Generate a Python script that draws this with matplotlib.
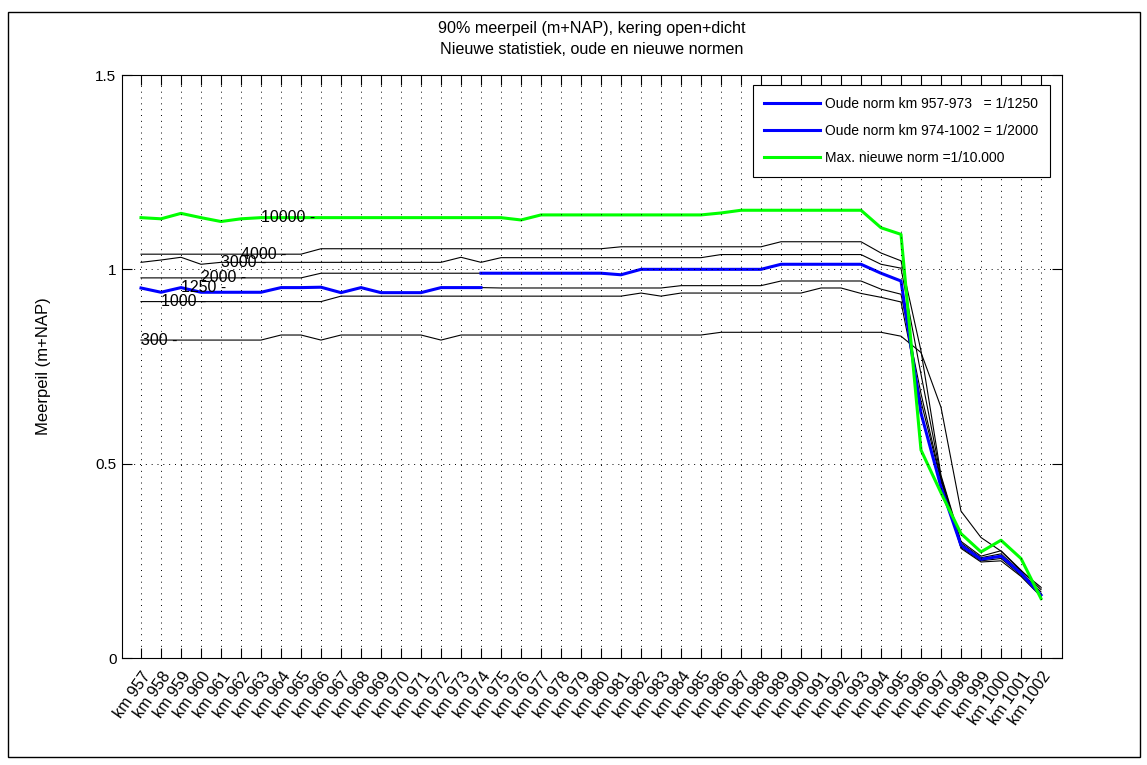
import matplotlib
matplotlib.use('Agg')
import matplotlib.pyplot as plt
from matplotlib.patches import Rectangle

plt.rcParams['font.family'] = ['Liberation Sans', 'DejaVu Sans']

# categories along the dike (km 957 .. km 1002)
km = list(range(957, 1003))
tick_labels = ['km %d' % k for k in km]

# 90% lake level per norm (m+NAP)
n300 = [0.818, 0.818, 0.818, 0.818, 0.818, 0.818, 0.818, 0.831, 0.831, 0.818,
        0.831, 0.831, 0.831, 0.831, 0.831, 0.818, 0.831, 0.831, 0.831, 0.831,
        0.831, 0.831, 0.831, 0.831, 0.831, 0.831, 0.831, 0.831, 0.831, 0.838,
        0.838, 0.838, 0.838, 0.838, 0.838, 0.838, 0.838, 0.838, 0.828, 0.786,
        0.645, 0.378, 0.310, 0.275, 0.224, 0.182]
n1000 = [0.917, 0.917, 0.917, 0.917, 0.917, 0.917, 0.917, 0.917, 0.917, 0.917,
         0.931, 0.931, 0.931, 0.931, 0.931, 0.931, 0.931, 0.931, 0.931, 0.931,
         0.931, 0.931, 0.931, 0.931, 0.931, 0.939, 0.931, 0.939, 0.939, 0.939,
         0.939, 0.939, 0.939, 0.939, 0.952, 0.952, 0.938, 0.928, 0.916, 0.660,
         0.455, 0.282, 0.247, 0.250, 0.210, 0.158]
n1250 = [0.952, 0.941, 0.953, 0.941, 0.941, 0.941, 0.941, 0.953, 0.953, 0.954,
         0.940, 0.953, 0.940, 0.940, 0.940, 0.953, 0.953, 0.953, 0.952, 0.952,
         0.952, 0.952, 0.952, 0.952, 0.952, 0.952, 0.952, 0.958, 0.958, 0.958,
         0.958, 0.958, 0.970, 0.970, 0.970, 0.970, 0.970, 0.949, 0.936, 0.680,
         0.460, 0.285, 0.250, 0.256, 0.213, 0.160]
n2000 = [0.978, 0.978, 0.978, 0.978, 0.978, 0.978, 0.978, 0.978, 0.978, 0.990,
         0.990, 0.990, 0.990, 0.990, 0.990, 0.990, 0.990, 0.990, 0.990, 0.990,
         0.990, 0.990, 0.990, 0.990, 0.986, 1.000, 1.000, 1.000, 1.000, 1.000,
         1.000, 1.000, 1.013, 1.013, 1.013, 1.013, 1.013, 0.990, 0.970, 0.630,
         0.440, 0.290, 0.254, 0.262, 0.218, 0.162]
n3000 = [1.018, 1.024, 1.031, 1.013, 1.018, 1.018, 1.018, 1.018, 1.018, 1.018,
         1.018, 1.018, 1.018, 1.018, 1.018, 1.018, 1.031, 1.018, 1.030, 1.030,
         1.030, 1.030, 1.030, 1.030, 1.030, 1.030, 1.030, 1.030, 1.030, 1.038,
         1.038, 1.038, 1.038, 1.038, 1.038, 1.038, 1.038, 1.013, 1.003, 0.730,
         0.465, 0.296, 0.258, 0.268, 0.221, 0.170]
n4000 = [1.039, 1.039, 1.039, 1.039, 1.039, 1.039, 1.039, 1.039, 1.039, 1.053,
         1.053, 1.053, 1.053, 1.053, 1.053, 1.053, 1.053, 1.053, 1.053, 1.053,
         1.053, 1.053, 1.053, 1.053, 1.058, 1.058, 1.058, 1.058, 1.058, 1.058,
         1.058, 1.058, 1.071, 1.071, 1.071, 1.071, 1.071, 1.042, 1.022, 0.790,
         0.470, 0.300, 0.262, 0.276, 0.226, 0.176]
n10000 = [1.133, 1.130, 1.144, 1.133, 1.123, 1.130, 1.133, 1.133, 1.133, 1.133,
          1.133, 1.133, 1.133, 1.133, 1.133, 1.133, 1.133, 1.133, 1.133, 1.127,
          1.140, 1.140, 1.140, 1.140, 1.140, 1.140, 1.140, 1.140, 1.140, 1.145,
          1.152, 1.152, 1.152, 1.152, 1.152, 1.152, 1.152, 1.107, 1.090, 0.535,
          0.425, 0.320, 0.273, 0.303, 0.256, 0.153]

norm_names = ['300', '1000', '1250', '2000', '3000', '4000', '10000']
norm_series = [n300, n1000, n1250, n2000, n3000, n4000, n10000]

legend_labels = ['Oude norm km 957-973   = 1/1250',
                 'Oude norm km 974-1002 = 1/2000',
                 'Max. nieuwe norm =1/10.000']

W, H = 1147, 765
fig = plt.figure(figsize=(W / 100, H / 100), dpi=100)
ax = fig.add_axes([122 / W, 1 - 658 / H, 940 / W, 583 / H])

for vals in norm_series[:-1]:
    ax.plot(km, vals, color='black', linewidth=0.8)

# old norm: 1/1250 up to km 974, 1/2000 from km 974
ax.plot(km[:18], n1250[:18], color=(0, 0, 1), linewidth=2.2, label=legend_labels[0])
ax.plot(km[17:], n2000[17:], color=(0, 0, 1), linewidth=2.2, label=legend_labels[1])
ax.plot(km, n10000, color=(0, 1, 0), linewidth=2.2, label=legend_labels[2])

# contour style labels at the start of each line
for i, (name, vals) in enumerate(zip(norm_names, norm_series)):
    ax.text(km[i], vals[i], name + ' -', fontsize=11.5, ha='left', va='center')

ax.set_xlim(956.05, 1003.05)
ax.set_ylim(0, 1.5)
ax.set_xticks(km)
ax.set_xticklabels(tick_labels, rotation=55, ha='right', rotation_mode='anchor', fontsize=11.5)
ax.set_yticks([0, 0.5, 1, 1.5])
ax.set_yticklabels(['0', '0.5', '1', '1.5'], fontsize=11)
ax.tick_params(direction='in', length=7.5, width=0.8, top=True, right=True)
ax.tick_params(axis='x', pad=8)
ax.tick_params(axis='y', pad=4)
for s in ax.spines.values():
    s.set_linewidth(0.8)

ax.set_axisbelow(False)
ax.grid(True, color='black', linestyle=(0, (1, 5)), linewidth=0.7)

ax.set_ylabel('Meerpeil (m+NAP)', fontsize=12, labelpad=32)
ax.set_title('90% meerpeil (m+NAP), kering open+dicht\nNieuwe statistiek, oude en nieuwe normen',
             fontsize=11.6, pad=15, linespacing=1.5)

leg = ax.legend(loc='upper right', bbox_to_anchor=(0.987, 0.983), borderaxespad=0,
                fontsize=10, handlelength=4.0, handletextpad=0.35, labelspacing=0.95,
                fancybox=False, framealpha=1, edgecolor='black', borderpad=0.85)
leg.get_frame().set_linewidth(0.8)

# outer frame round the figure
fig.patches.append(Rectangle((8 / W, 1 - 757 / H), 1132 / W, 745 / H,
                             transform=fig.transFigure, fill=False,
                             edgecolor='black', linewidth=1))

fig.savefig('out.png', dpi=100)
